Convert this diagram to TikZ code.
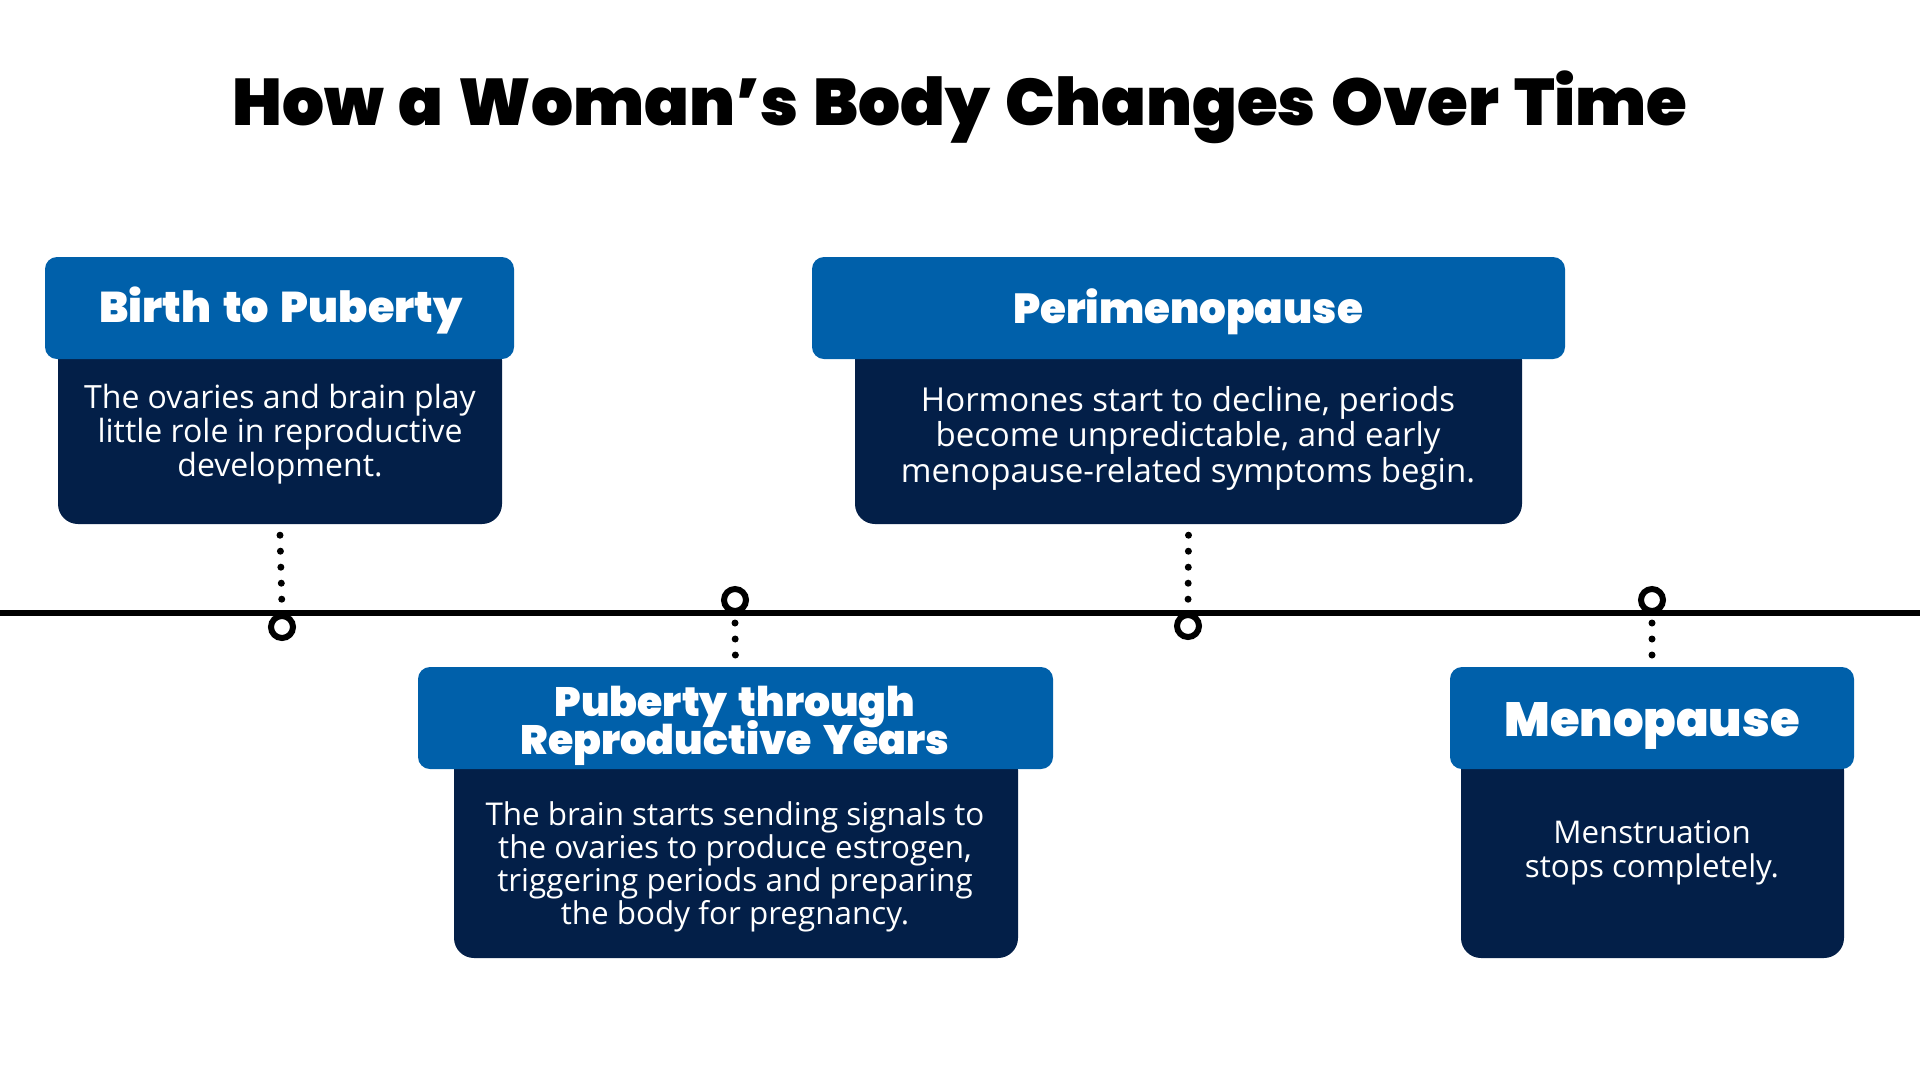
\documentclass[tikz,border=0pt]{standalone}
\usepackage{fontspec}
\setmainfont{Open Sans}
\newfontfamily\heavy{Poppins Black}
\definecolor{hblue}{HTML}{0060AA}
\definecolor{navy}{HTML}{031F48}
\newcommand{\hfont}[1]{\heavy\fontsize{#1}{38}\selectfont\spaceskip=.27em\lineskiplimit=-100pt\lineskip=0pt}
\newcommand{\bfontsize}[2]{\fontsize{#1}{#2}\selectfont\lineskiplimit=-100pt\lineskip=0pt}
\begin{document}
\begin{tikzpicture}[x=1pt,y=-1pt,
  header/.style={fill=hblue, rounded corners=12pt, inner sep=0pt},
  htext/.style={text=white, inner sep=0pt, align=center},
  bodybox/.style={fill=navy, rounded corners=20pt, inner sep=0pt},
  bodytext/.style={text=white, align=center, inner sep=0pt},
  stem/.style={line width=7pt, line cap=round, dash pattern=on 0pt off 16pt},
  pin/.style={circle, draw=black, line width=6pt, fill=white, minimum size=22pt, inner sep=0pt},
]
\fill[white] (0,0) rectangle (1920,1080);
\useasboundingbox (0,0) rectangle (1920,1080);

% title
\node[anchor=base, inner sep=0pt, font={\heavy\fontsize{66}{66}\selectfont\spaceskip=.23em}] (title) at (960,125) {How a Woman’s Body Changes Over Time};

% timeline
\coordinate (tl) at (0,613);
\coordinate (tr) at (1920,613);
\draw[line width=6pt] (tl) -- (tr);

% pins
\node[pin] (p1) at (282,627) {};
\node[pin] (p2) at (735,600) {};
\node[pin] (p3) at (1188,626) {};
\node[pin] (p4) at (1652,600) {};

% boxes: bodies
\node[bodybox, minimum width=444pt, minimum height=184pt] (b1) at (280,432) {};
\node[bodybox, minimum width=564pt, minimum height=208pt] (b2) at (736,854) {};
\node[bodybox, minimum width=667pt, minimum height=184pt] (b3) at (1188.5,432) {};
\node[bodybox, minimum width=383pt, minimum height=208pt] (b4) at (1652.5,854) {};

% header coordinates
\coordinate (c1) at (279.5,308);
\coordinate (c2) at (735.5,718);
\coordinate (c3) at (1188.5,308);
\coordinate (c4) at (1652,718);

% stems
\draw[stem] ([yshift=-11pt]b1.south) -- ([yshift=4pt]p1.north);
\draw[stem] ([yshift=-11pt]b3.south) -- ([yshift=4pt]p3.north);
\draw[stem] ([yshift=-9pt]p2.south) -- ([yshift=51pt]c2);
\draw[stem] ([yshift=-9pt]p4.south) -- ([yshift=51pt]c4);

% headers
\node[header, minimum width=469pt, minimum height=102pt] (h1) at (c1) {};
\node[header, minimum width=635pt, minimum height=102pt] (h2) at (c2) {};
\node[header, minimum width=753pt, minimum height=102pt] (h3) at (c3) {};
\node[header, minimum width=404pt, minimum height=102pt] (h4) at (c4) {};

% header texts
\node[htext, anchor=base, font=\hfont{43}] (t1) at (281,322) {Birth to Puberty};
\node[htext, font=\hfont{41}] (t2) at (735,726) {Puberty through\\Reproductive Years};
\node[htext, anchor=base, font=\hfont{42}] (t3) at (1188,323) {Perimenopause};
\node[htext, anchor=base, font=\hfont{48}] (t4) at (1652,736) {Menopause};

% body texts
\node[bodytext, font=\bfontsize{32}{33.8}] (d1) at (280,434) {The ovaries and brain play\\little role in reproductive\\development.};
\node[bodytext, font=\bfontsize{31.4}{33.2}] (d2) at (735,867) {The brain starts sending signals to\\the ovaries to produce estrogen,\\triggering periods and preparing\\the body for pregnancy.};
\node[bodytext, font=\bfontsize{33}{35.5}] (d3) at (1188,438) {Hormones start to decline, periods\\become unpredictable, and early\\menopause-related symptoms begin.};
\node[bodytext, font=\bfontsize{31.3}{34}] (d4) at (1652,853) {Menstruation\\stops completely.};
\end{tikzpicture}
\end{document}
